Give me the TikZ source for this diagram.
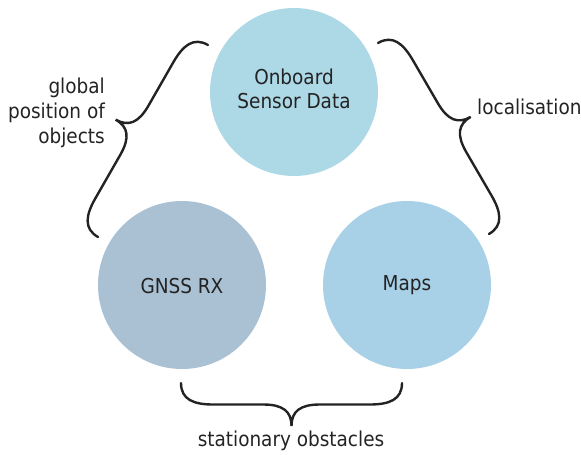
\documentclass[tikz,border=0pt]{standalone}
\usepackage{fontspec}
\setmainfont{DejaVu Sans Condensed}
\usetikzlibrary{decorations}
\definecolor{topc}{RGB}{173,216,230}
\definecolor{gnssc}{RGB}{170,193,212}
\definecolor{mapsc}{RGB}{168,208,231}
\definecolor{txtc}{RGB}{35,35,35}
\pgfdeclaredecoration{sbrace}{brace}{%
  \state{brace}[width=+\pgfdecoratedremainingdistance,next state=final]{%
    \pgfmathsetlengthmacro\bA{\pgfdecorationsegmentamplitude}%
    \pgfmathsetlengthmacro\bL{\pgfdecoratedremainingdistance}%
    \pgfpathmoveto{\pgfpointorigin}%
    \pgfpathcurveto{\pgfpoint{0pt}{.39*\bA}}{\pgfpoint{.3*\bA}{.5*\bA}}{\pgfpoint{.75*\bA}{.5*\bA}}%
    \pgfpathlineto{\pgfpoint{.5*\bL-.66*\bA}{.5*\bA}}%
    \pgfpathcurveto{\pgfpoint{.5*\bL-.2*\bA}{.5*\bA}}{\pgfpoint{.5*\bL}{.66*\bA}}{\pgfpoint{.5*\bL}{\bA}}%
    \pgfpathcurveto{\pgfpoint{.5*\bL}{.66*\bA}}{\pgfpoint{.5*\bL+.2*\bA}{.5*\bA}}{\pgfpoint{.5*\bL+.66*\bA}{.5*\bA}}%
    \pgfpathlineto{\pgfpoint{\bL-.75*\bA}{.5*\bA}}%
    \pgfpathcurveto{\pgfpoint{\bL-.3*\bA}{.5*\bA}}{\pgfpoint{\bL}{.39*\bA}}{\pgfpoint{\bL}{0pt}}%
  }%
  \state{final}{}%
}
\tikzset{
  bubble/.style={circle, minimum size=168pt, inner sep=0pt},
  lbl/.style={text=txtc, font=\fontsize{20.5}{25}\selectfont, inner sep=0pt},
  bracec/.style={draw=txtc, line width=2.4pt, line cap=round, decorate,
    decoration={sbrace, amplitude=43pt}},
}
\begin{document}
\begin{tikzpicture}[x=1pt,y=-1pt]
\useasboundingbox (0,0) rectangle (581,455);
\node[bubble, fill=topc] (osd) at (294,92) {};
\node[bubble, fill=gnssc] (gnss) at (182,285) {};
\node[bubble, fill=mapsc] (maps) at (407,285) {};
\node[lbl, align=center, font=\fontsize{20.5}{24.5}\selectfont] (osdt) at (294,89) {Onboard\\Sensor Data};
\node[lbl] (gnsst) at (182,286) {GNSS RX};
\node[lbl] (mapst) at (407,285) {Maps};
% brace end points
\coordinate (lA) at (98,237);
\coordinate (lB) at (208,45);
\coordinate (rA) at (378,43);
\coordinate (rB) at (489,234);
\coordinate (bA) at (402,383);
\coordinate (bB) at (181,383);
\draw[bracec] (lA) -- (lB);
\draw[bracec] (rA) -- (rB);
\draw[bracec] (bA) -- (bB);
\node[lbl, align=right, anchor=east] (glob) at (105,113) {global\\position of\\objects};
\node[lbl, anchor=west] (loc) at (477,107) {localisation};
\node[lbl] (stat) at (291,441) {stationary obstacles};
\end{tikzpicture}
\end{document}
